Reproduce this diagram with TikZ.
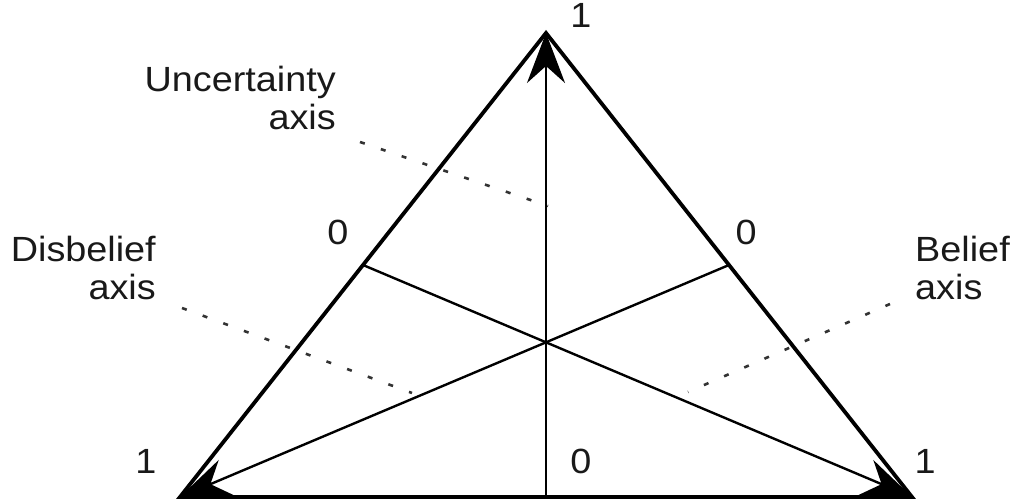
\documentclass[tikz,border=0pt]{standalone}
\usepackage{fontspec}
\setmainfont{Liberation Sans}
\usetikzlibrary{arrows.meta,calc}
\begin{document}
\begin{tikzpicture}[x=1pt,y=1pt,
  lbl/.style={inner sep=0pt, font=\fontsize{35}{38}\selectfont, text=black!90, xscale=1.08},
  tri/.style={line width=3.8pt, line join=miter},
  axisline/.style={line width=2.4pt, -{Stealth[length=50pt,width=38pt,inset=17pt]}},
  leader/.style={line width=2.6pt, dash pattern=on 5pt off 17pt, black!80}]
\useasboundingbox (0,0) rectangle (1016,500);
\coordinate (T) at (546,467);
\coordinate (L) at (180,3);
\coordinate (R) at (912,3);
\coordinate (ML) at ($(T)!0.5!(L)$);
\coordinate (MR) at ($(T)!0.5!(R)$);
\coordinate (MB) at ($(L)!0.5!(R)$);
\draw[axisline] (MB) -- (T);
\draw[axisline] (ML) -- (R);
\draw[axisline] (MR) -- (L);
\draw[tri] (T) -- (L) -- (R) -- cycle;
% labels
\node[lbl, anchor=base] (t1) at (581,472) {1};
\node[lbl, anchor=base] (l1) at (146,26) {1};
\node[lbl, anchor=base] (r1) at (925,26) {1};
\node[lbl, anchor=base] (b0) at (581,26) {0};
\node[lbl, anchor=base] (l0) at (338,255) {0};
\node[lbl, anchor=base] (r0) at (746,255) {0};
\node[lbl, anchor=base east, align=right] (ua) at (336,370) {Uncertainty\\axis};
\node[lbl, anchor=base east, align=right] (da) at (156,200) {Disbelief\\axis};
\node[lbl, anchor=base west, align=left] (ba) at (915,200) {Belief\\axis};
\coordinate (u1) at (360,358);
\coordinate (u2) at (548,294);
\coordinate (d1) at (182,192);
\coordinate (d2) at (412,107);
\coordinate (b1) at (890,196);
\coordinate (b2) at (688,108);
\draw[leader] (u1) -- (u2);
\draw[leader] (d1) -- (d2);
\draw[leader] (b1) -- (b2);
\end{tikzpicture}
\end{document}
